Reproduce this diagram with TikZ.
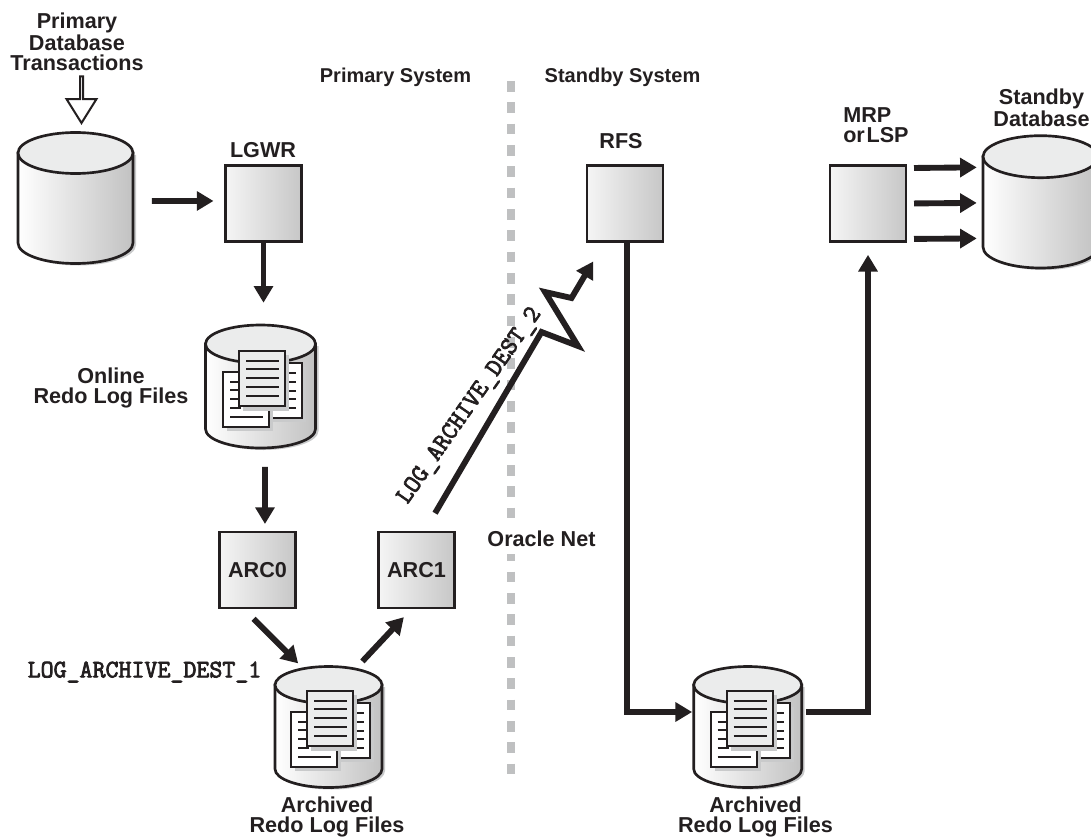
\documentclass[tikz,border=0pt]{standalone}
\usepackage{fontspec}
\setmainfont{Liberation Sans}
\newfontfamily\destfont{Latin Modern Mono}[FakeBold=3]
\usetikzlibrary{arrows.meta,shapes.arrows}

\definecolor{ink}{HTML}{231F20}
\definecolor{capgray}{HTML}{EBECEC}
\definecolor{dropgray}{HTML}{C9CACB}
\definecolor{sysgray}{HTML}{BFC0C1}

% cylinder: name, centre x, top cap centre y, x radius, y radius, bottom cap centre y
\newcommand{\drum}[6]{
  \fill [dropgray] ({#2-#4+3},{#3+2}) -- ({#2-#4+3},{#6+2}) arc[start angle=180,end angle=0,x radius=#4,y radius=#5] -- ({#2+#4+3},{#3+2}) -- cycle;
  \draw [drumline,left color=white,right color=black!24] ({#2-#4},#3) -- ({#2-#4},#6) arc[start angle=180,end angle=0,x radius=#4,y radius=#5] -- ({#2+#4},#3) -- cycle;
  \draw [drumline,fill=capgray] (#2,#3) ellipse[x radius=#4,y radius=#5];
  \node (#1) [minimum width={(2*#4)*0.75pt},minimum height={(#6-#3+2*#5)*0.75pt}] at (#2,{(#3+#6)/2}) {};
}
% stack of three pages, from the top left corner of the front page
\newcommand{\logpages}[2]{
  \fill [dropgray] ({#1+20},{#2+16}) rectangle ({#1+67},{#2+71});
  \draw [pageline,fill=white] ({#1+16},{#2+12}) rectangle ({#1+63},{#2+67});
  \foreach \y in {22,31,40,48,57} \draw [textline] ({#1+49},{#2+\y}) -- ({#1+57},{#2+\y});
  \fill [dropgray] ({#1-12},{#2+25}) rectangle ({#1+34},{#2+80});
  \draw [pageline,fill=white] ({#1-16},{#2+21}) rectangle ({#1+30},{#2+76});
  \foreach \y in {31,39,48,57} \draw [textline] ({#1-9},{#2+\y}) -- ({#1+2},{#2+\y});
  \draw [textline] ({#1-9},{#2+66}) -- ({#1+24},{#2+66});
  \fill [dropgray] ({#1+4},{#2+4}) rectangle ({#1+50},{#2+60});
  \draw [pageline,fill=capgray] (#1,#2) rectangle ({#1+46},{#2+55});
  \foreach \y in {10,18,27,36,45} \draw [textline] ({#1+7},{#2+\y}) -- ({#1+40},{#2+\y});
}

\begin{document}
\begin{tikzpicture}[
  x=0.75pt,
  y=-0.75pt,
  font=\fontsize{16.2pt}{15pt}\selectfont\bfseries,
  text=ink,
  drumline/.style={
    draw=ink,
    line width=2pt
  },
  pageline/.style={
    draw=ink,
    line width=1.5pt
  },
  textline/.style={
    draw=ink,
    line width=0.9pt
  },
  box/.style={
    draw=ink,
    line width=2pt,
    left color=white!96!black,
    right color=black!22,
    minimum width=57pt,
    minimum height=57pt,
    inner sep=0pt
  },
  label/.style={
    align=center,
    inner sep=0pt
  },
  system/.style={
    font=\fontsize{15pt}{15pt}\selectfont\bfseries,
    inner sep=0pt
  },
  dest/.style={
    font=\fontsize{18.9pt}{16pt}\selectfont\destfont,
    inner sep=0pt
  },
  a/.style={
    -{Triangle[length=12.5pt,width=14pt]},
    draw=ink,
    line width=4.4pt
  },
  hollow/.style={
    single arrow,
    draw=ink,
    fill=white,
    line width=1.5pt,
    shape border rotate=270,
    minimum width=22.5pt,
    minimum height=35pt,
    single arrow head extend=6.75pt,
    single arrow tip angle=64,
    single arrow head indent=0pt,
    inner sep=0pt
  },
  sysline/.style={
    draw=sysgray,
    line width=6pt,
    dash pattern=on 8pt off 8pt
  }
  ]

  \clip (0,0) rectangle (1091,838);

  % divider
  \coordinate (sys-top) at (511,81);
  \coordinate (sys-bottom) at (511,775);
  \draw [sysline] (sys-top) -- (sys-bottom);

  % stores
  \drum{primary-db}{75.5}{153}{57.5}{20.5}{243}
  \drum{online-log}{260.5}{344}{55}{19}{429}
  \logpages{239}{351}
  \drum{archive-log}{328.5}{685}{53.5}{18.5}{769}
  \logpages{307}{691}
  \drum{standby-log}{747.7}{685}{54}{18.5}{769}
  \logpages{726.5}{691}
  \drum{standby-db}{1040.5}{156.7}{57.5}{21}{247}

  % processes
  \node (lgwr) [box] at (263.5,203.5) {};
  \node (arc0) [box] at (257.5,570) {ARC0};
  \node (arc1) [box] at (416.5,570) {ARC1};
  \node (rfs) [box] at (625,203.5) {};
  \node (mrp) [box] at (868,203.5) {};

  % labels
  \node (transactions) [label] at (77,42) {Primary\\Database\\Transactions};
  \node (tx-arrow) [hollow] at (81.5,98.5) {};
  \node (lgwr-label) [label] at (263,150) {LGWR};
  \node (rfs-label) [label] at (621,141) {RFS};
  \node (mrp-label) [label,anchor=west,align=left] at (843,125.5) {MRP\\or\hspace{.08em}LSP};
  \node (standby-label) [label] at (1041.5,108) {Standby\\Database};
  \node (primary-label) [system] at (395.5,77) {Primary System};
  \node (standby-sys-label) [system] at (622.5,77) {Standby System};
  \node (online-label) [label] at (111,388) {Online\\Redo Log Files};
  \node (archive-label) [label] at (327,817) {Archived\\Redo Log Files};
  \node (standby-log-label) [label] at (755.5,817) {Archived\\Redo Log Files};
  \node (net-label) [label,fill=white,minimum height=22pt] at (541.5,539) {Oracle Net};
  \node (dest1) [dest] at (144.5,672) {LOG\_ARCHIVE\_DEST\_1};
  \node (dest2) [dest,rotate=55] at (470,406) {LOG\_ARCHIVE\_DEST\_2};

  % connectors
  \draw [a,shorten <=14pt,shorten >=8pt] ([yshift=-2.25pt]primary-db.east) -- ([yshift=1.9pt]lgwr.west);
  \draw [a,shorten >=16.5pt] (lgwr.south) -- (lgwr.south |- online-log.north);
  \draw [a,shorten <=14pt,shorten >=5pt] ([xshift=3.4pt]online-log.south) -- ([xshift=5.6pt]arc0.north);
  \draw [a,shorten <=10pt,shorten >=3pt] ([xshift=-10pt]arc0.south) -- ([xshift=-20.6pt]archive-log.north);
  \draw [a,shorten <=5pt,shorten >=8pt] ([xshift=22pt]archive-log.north) -- ([xshift=-4pt]arc1.south);
  \draw [a,line join=miter,miter limit=10] ([shift={(13.9pt,13.1pt)}]arc1.north) -- (541.5,332) -- (578,346) -- (545,292) -- (571.5,298) -- ([shift={(5.6pt,-14pt)}]rfs.south west);
  \draw [a,shorten >=1pt] ([xshift=1.5pt]rfs.south) |- ([yshift=11.25pt]standby-log.west);
  \draw [a,shorten <=3pt,shorten >=9pt] ([yshift=11.25pt]standby-log.east) -| (mrp.south);
  \draw [a,shorten <=5pt,shorten >=4.5pt] ([yshift=26.6pt]mrp.east) -- ([yshift=25.9pt]standby-db.west);
  \draw [a,shorten <=5pt,shorten >=4.5pt] (mrp.east) -- ([yshift=-0.75pt]standby-db.west);
  \draw [a,shorten <=5pt,shorten >=4.5pt] ([yshift=-26.6pt]mrp.east) -- ([yshift=-27.4pt]standby-db.west);
\end{tikzpicture}
\end{document}
